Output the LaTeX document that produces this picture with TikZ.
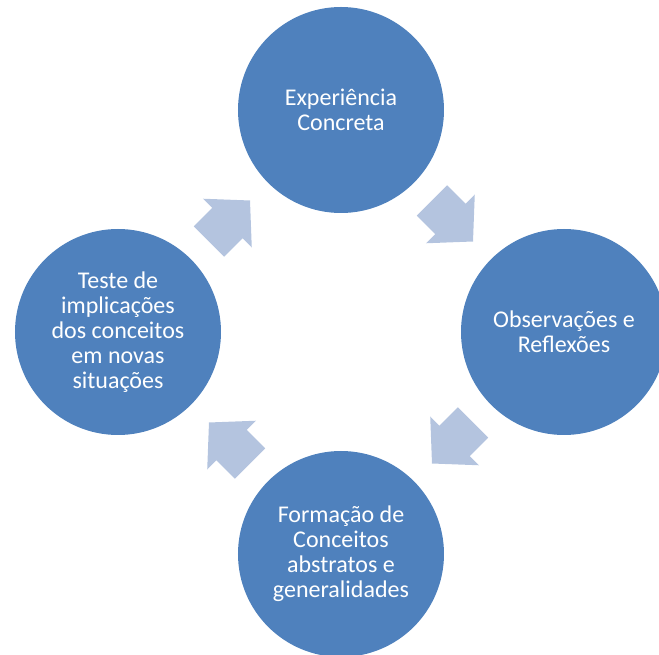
\documentclass[tikz,border=0pt]{standalone}
\usepackage{fontspec}
\setmainfont{Carlito}
\usepackage{tikz}
\usetikzlibrary{calc}
\definecolor{azul}{RGB}{79,129,189}
\definecolor{azulclaro}{RGB}{180,196,223}
\tikzset{
	etapa/.style={circle, fill=azul, draw=none, minimum size=206pt, inner sep=0pt,
		text=white, align=center, font=\fontsize{24}{25}\selectfont},
	seta/.pic={
		\fill[azulclaro] (-29,-21.5) -- (-3,-21.5) -- (-3,-34.5) -- (29,0)
			-- (-3,34.5) -- (-3,21.5) -- (-29,21.5) -- cycle;
	}
}

\begin{document}
\begin{tikzpicture}[x=1pt,y=1pt]
	\useasboundingbox (-341,-323) rectangle (318,332);
	% ciclo
	\node[etapa] (exp) at (0,222) {Experiência\\Concreta};
	\node[etapa] (obs) at (223,0) {Observações e\\Reflexões};
	\node[etapa] (form) at (0,-222) {Formação de\\Conceitos\\abstratos e\\generalidades};
	\node[etapa] (teste) at (-223,0) {Teste de\\implicações\\dos conceitos\\em novas\\situações};
	% setas
	\pic[rotate=45] at ($(teste)!.5!(exp)$) {seta};
	\pic[rotate=-45] at ($(exp)!.5!(obs)$) {seta};
	\pic[rotate=-135] at ($(obs)!.5!(form)$) {seta};
	\pic[rotate=135] at ($(form)!.5!(teste)$) {seta};
\end{tikzpicture}
\end{document}
